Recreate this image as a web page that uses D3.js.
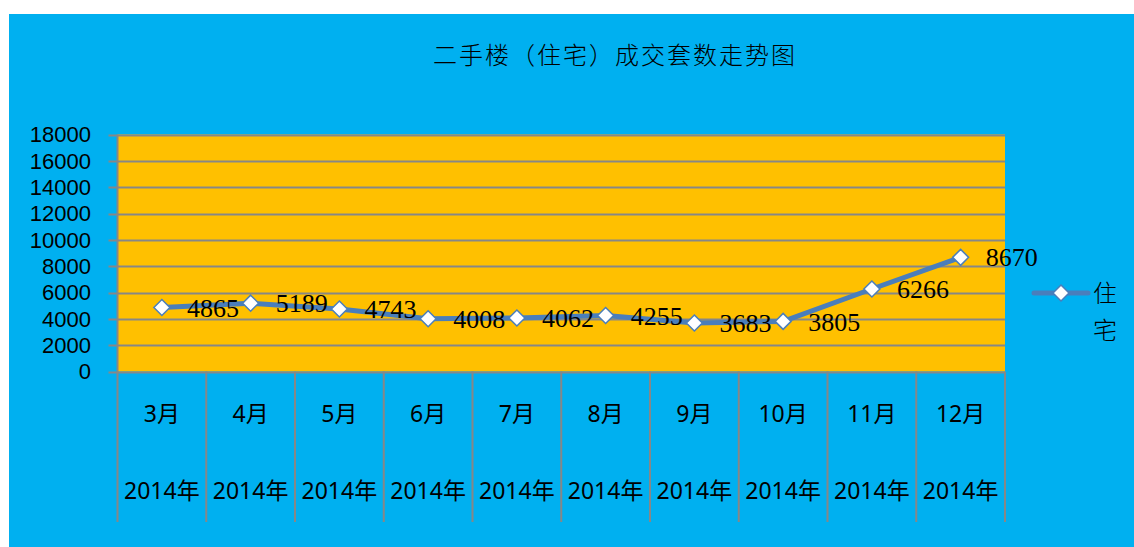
<!DOCTYPE html>
<html><head><meta charset="utf-8">
<script src="https://cdn.jsdelivr.net/npm/d3@7"></script>
<style>html,body{margin:0;padding:0;background:#fff;}svg{display:block;}</style>
</head><body>
<script>
const months = ["3月","4月","5月","6月","7月","8月","9月","10月","11月","12月"];
const years = ["2014年","2014年","2014年","2014年","2014年","2014年","2014年","2014年","2014年","2014年"];
const values = [4865, 5189, 4743, 4008, 4062, 4255, 3683, 3805, 6266, 8670];
const yTicks = [0,2000,4000,6000,8000,10000,12000,14000,16000,18000];
const title = "二手楼（住宅）成交套数走势图";
const seriesName = "住宅";

const W = 1134, H = 547;
const svg = d3.select("body").append("svg").attr("width", W).attr("height", H);
svg.append("rect").attr("x", 9).attr("y", 14).attr("width", W - 9).attr("height", H - 14).attr("fill", "#00B0F0");

const L = 117.5, R = 1005, T = 134.5, B = 371.5;
const x = d3.scaleBand().domain(d3.range(months.length)).range([L, R]);
const y = d3.scaleLinear().domain([0, 18000]).range([B, T]);
const grid = "#878787";

svg.append("rect").attr("x", L).attr("y", T).attr("width", R - L).attr("height", B - T).attr("fill", "#FFC000");

svg.append("text").attr("x", 615).attr("y", 64).attr("text-anchor", "middle")
  .attr("font-family", "'Noto Sans CJK SC'").attr("font-weight", 300).attr("font-size", 24)
  .attr("letter-spacing", 2).attr("fill", "#000").text(title);

// gridlines + ticks
svg.append("g").selectAll("line").data(yTicks).join("line")
  .attr("x1", L - 9).attr("x2", R).attr("y1", d => Math.round(y(d)) + 0.5).attr("y2", d => Math.round(y(d)) + 0.5)
  .attr("stroke", grid).attr("stroke-width", 2);
svg.append("line").attr("x1", L).attr("x2", L).attr("y1", T).attr("y2", B).attr("stroke", grid).attr("stroke-width", 2);

svg.append("g").selectAll("text").data(yTicks).join("text")
  .attr("x", 91).attr("y", d => y(d)).attr("dy", "0.36em").attr("text-anchor", "end")
  .attr("font-family", "'Liberation Sans', sans-serif").attr("font-size", 22).attr("fill", "#000").text(d => d);

// category separators
const bounds = d3.range(months.length + 1).map(i => i < months.length ? x(i) : R);
svg.append("g").selectAll("line").data(bounds).join("line")
  .attr("x1", d => d).attr("x2", d => d).attr("y1", B).attr("y2", 522)
  .attr("stroke", grid).attr("stroke-width", 2);

svg.append("g").selectAll("text").data(months).join("text")
  .attr("x", (d, i) => x(i) + x.bandwidth() / 2).attr("y", 414).attr("dy", "0.36em").attr("text-anchor", "middle")
  .attr("font-family", "'Noto Sans', 'Noto Sans CJK SC', sans-serif").attr("font-size", 23).attr("fill", "#000").text(d => d);
svg.append("g").selectAll("text").data(years).join("text")
  .attr("x", (d, i) => x(i) + x.bandwidth() / 2).attr("y", 491).attr("dy", "0.36em").attr("text-anchor", "middle")
  .attr("font-family", "'Noto Sans', 'Noto Sans CJK SC', sans-serif").attr("font-size", 23).attr("fill", "#000").text(d => d);

// line
const blue = "#4A7EBB";
const line = d3.line().x((d, i) => x(i) + x.bandwidth() / 2).y(d => y(d));
svg.append("path").datum(values).attr("d", line).attr("fill", "none")
  .attr("stroke", blue).attr("stroke-width", 5).attr("stroke-linejoin", "round");

const diamond = s => `M0,${-s}L${s},0L0,${s}L${-s},0Z`;
svg.append("g").selectAll("path").data(values).join("path")
  .attr("transform", (d, i) => `translate(${x(i) + x.bandwidth() / 2},${y(d)})`)
  .attr("d", diamond(8)).attr("fill", "#fff").attr("stroke", blue).attr("stroke-width", 1.5);

svg.append("g").selectAll("text").data(values).join("text")
  .attr("x", (d, i) => x(i) + x.bandwidth() / 2 + 25).attr("y", d => y(d)).attr("dy", "0.35em")
  .attr("font-family", "'Liberation Serif', serif").attr("font-size", 26).attr("fill", "#000").text(d => d);

// legend
svg.append("line").attr("x1", 1034).attr("x2", 1088).attr("y1", 293).attr("y2", 293)
  .attr("stroke", blue).attr("stroke-width", 5).attr("stroke-linecap", "round");
svg.append("path").attr("transform", "translate(1061,293)").attr("d", diamond(8))
  .attr("fill", "#fff").attr("stroke", blue).attr("stroke-width", 1.5);
const lt = svg.append("text").attr("font-family", "'Noto Sans CJK SC'").attr("font-weight", 300)
  .attr("font-size", 24).attr("fill", "#000");
seriesName.split("").forEach((c, i) => {
  lt.append("tspan").attr("x", 1093).attr("y", 293 + i * 37).attr("dy", "0.38em").text(c);
});
</script>
</body></html>
